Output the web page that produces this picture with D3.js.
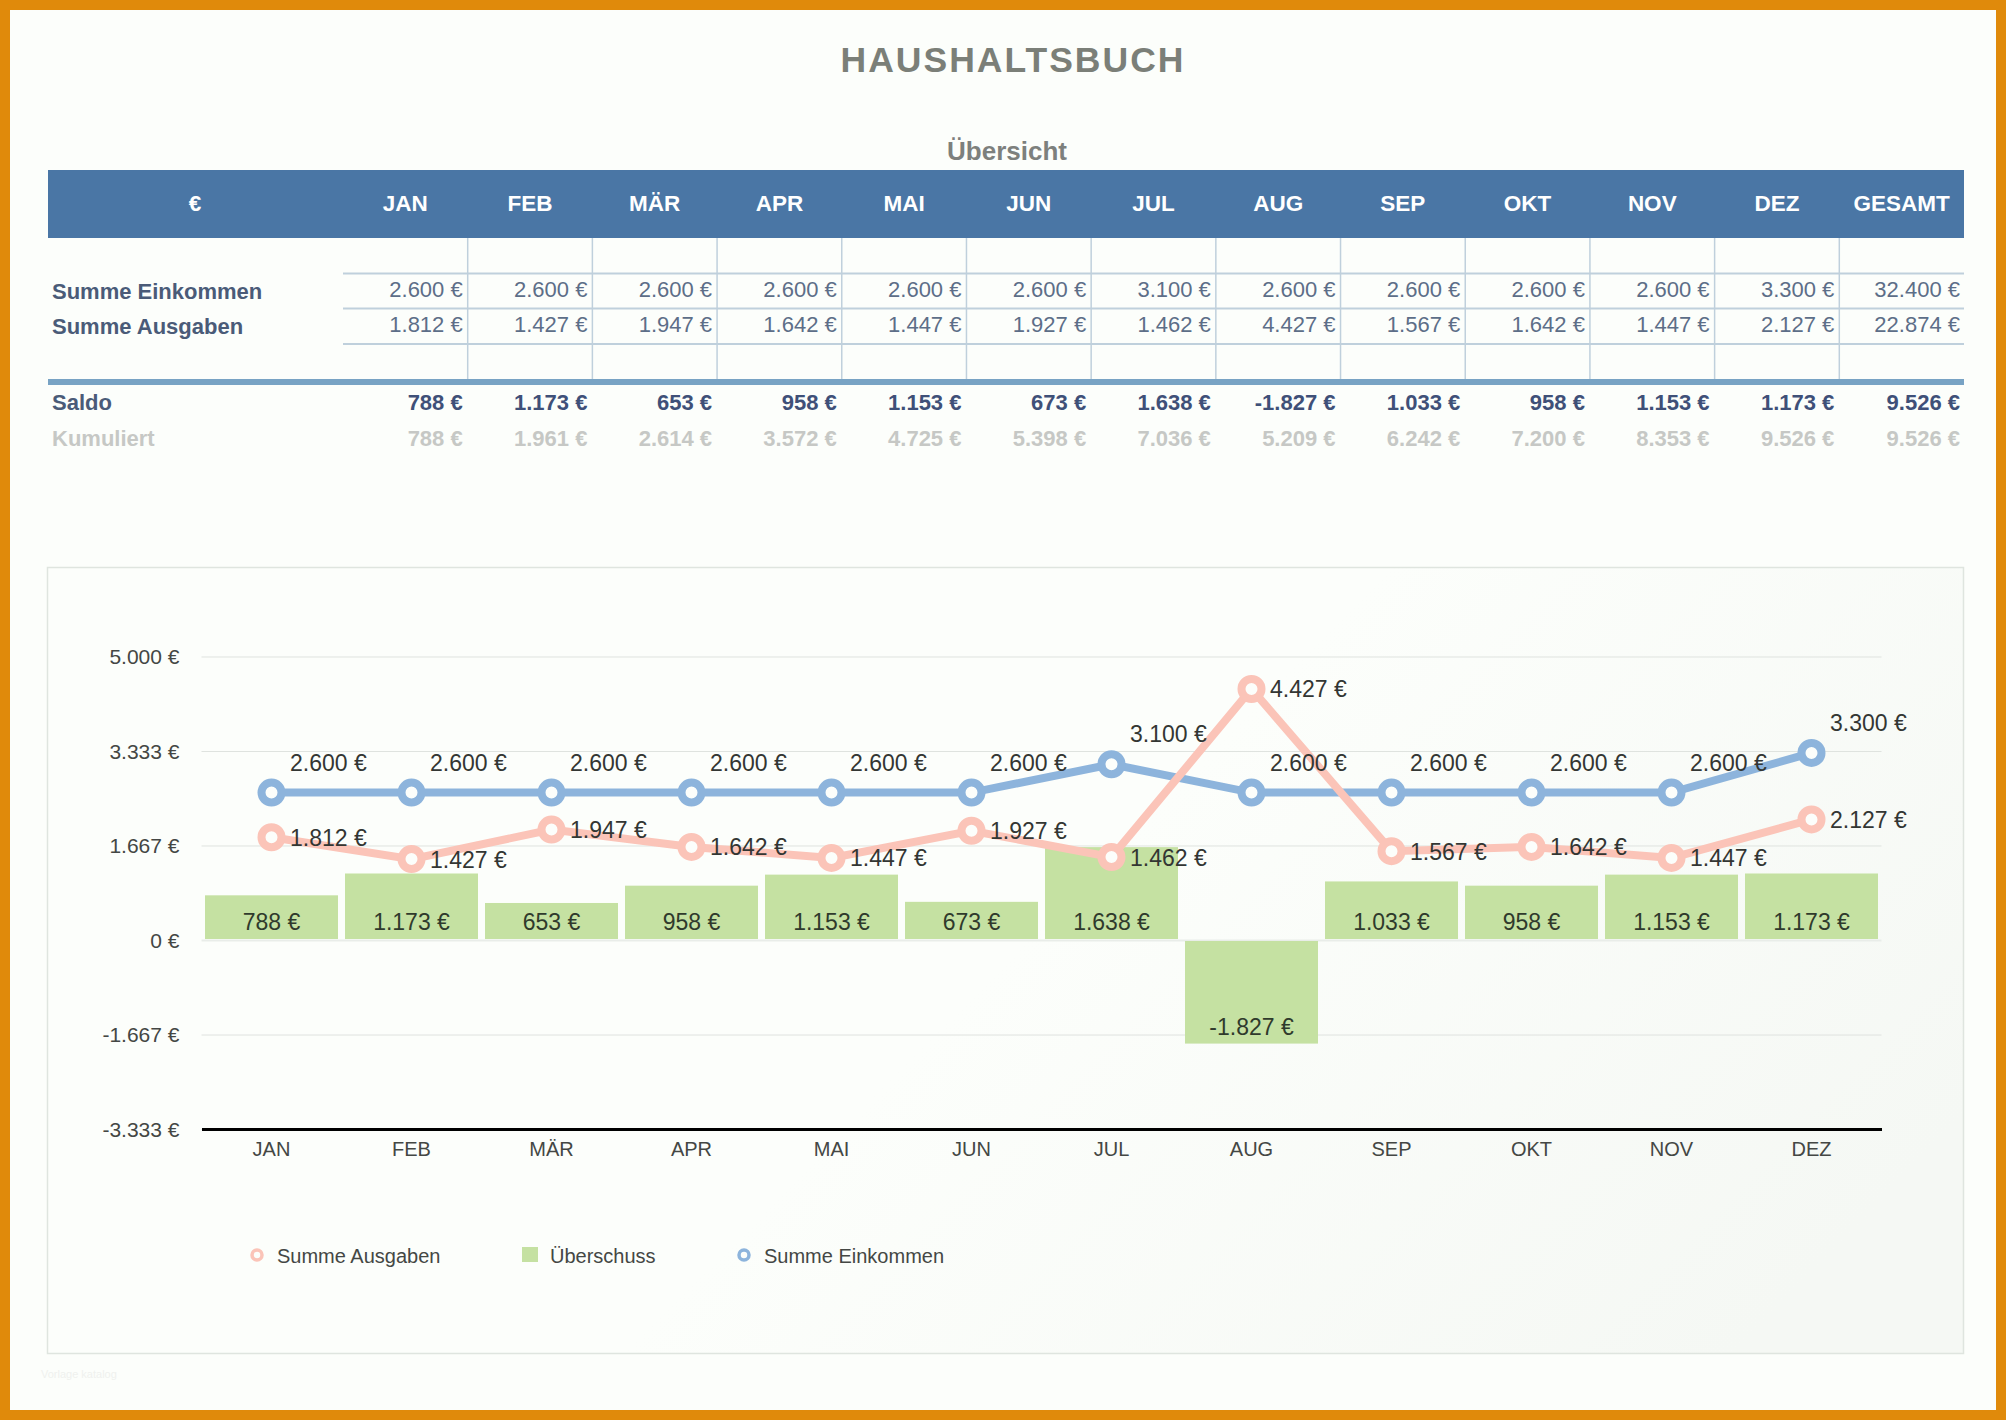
<!DOCTYPE html>
<html>
<head>
<meta charset="utf-8">
<title>Haushaltsbuch</title>
<script src="https://d3js.org/d3.v7.min.js"></script>
<style>
	html, body { margin: 0; padding: 0; background: #fcfefb; }
	svg { display: block; }
	text { font-family: "Liberation Sans", Arial, sans-serif; }
</style>
</head>
<body>
<script>
var months = ['JAN', 'FEB', 'MÄR', 'APR', 'MAI', 'JUN', 'JUL', 'AUG', 'SEP', 'OKT', 'NOV', 'DEZ']
var einkommen = [2600, 2600, 2600, 2600, 2600, 2600, 3100, 2600, 2600, 2600, 2600, 3300]
var ausgaben = [1812, 1427, 1947, 1642, 1447, 1927, 1462, 4427, 1567, 1642, 1447, 2127]
var saldo = [788, 1173, 653, 958, 1153, 673, 1638, -1827, 1033, 958, 1153, 1173]
var kumuliert = [788, 1961, 2614, 3572, 4725, 5398, 7036, 5209, 6242, 7200, 8353, 9526]
var gesamt = [32400, 22874, 9526, 9526]
var yTicks = [5000, 3333, 1667, 0, -1667, -3333]
var legendLabels = ['Summe Ausgaben', 'Überschuss', 'Summe Einkommen']

var width = 2006,
	height = 1420

var blue = '#8db4dc',
	pink = '#fbc4b8',
	green = '#c5e1a2',
	paper = '#fcfefb'

var locale = d3.formatLocale({decimal: ',', thousands: '.', grouping: [3], currency: ['', ''], minus: '-'})
var euro = d => locale.format(',')(d) + ' €'

var svg = d3.select('body').append('svg')
	.attr('width', width)
	.attr('height', height)

// orange frame
svg.append('rect')
	.attr('width', width)
	.attr('height', height)
	.attr('fill', '#e08a0b')

svg.append('rect')
	.attr('x', 10)
	.attr('y', 10)
	.attr('width', 1986)
	.attr('height', 1400)
	.attr('fill', paper)

var grad = svg.append('defs').append('linearGradient')
	.attr('id', 'panelFill')
	.attr('x1', 0.5).attr('y1', 0.5)
	.attr('x2', 1).attr('y2', 0.7)
grad.append('stop').attr('offset', 0).attr('stop-color', paper)
grad.append('stop').attr('offset', 1).attr('stop-color', '#f5f8f4')

// TITLE
svg.append('text')
	.attr('x', 1013)
	.attr('y', 72)
	.attr('text-anchor', 'middle')
	.attr('font-size', 35.5)
	.attr('font-weight', 'bold')
	.attr('letter-spacing', 2)
	.attr('fill', '#7b7f78')
	.text('HAUSHALTSBUCH')

svg.append('text')
	.attr('x', 1007)
	.attr('y', 160)
	.attr('text-anchor', 'middle')
	.attr('font-size', 26)
	.attr('font-weight', 'bold')
	.attr('fill', '#7d807d')
	.text('Übersicht')

// TABLE
var tableCols = months.concat(['GESAMT'])

var col = d3.scaleBand()
	.domain(tableCols)
	.range([343, 1964])

var table = svg.append('g')

table.append('rect')
	.attr('x', 48)
	.attr('y', 170)
	.attr('width', 1916)
	.attr('height', 68)
	.attr('fill', '#4a76a5')

table.append('text')
	.attr('x', 195)
	.attr('y', 211)
	.attr('text-anchor', 'middle')
	.attr('font-size', 22.5)
	.attr('font-weight', 'bold')
	.attr('fill', '#ffffff')
	.text('€')

table.selectAll('.head')
	.data(tableCols)
	.enter()
	.append('text')
		.attr('class', 'head')
		.attr('x', d => col(d) + col.bandwidth() / 2)
		.attr('y', 211)
		.attr('text-anchor', 'middle')
		.attr('font-size', 22.5)
		.attr('font-weight', 'bold')
		.attr('fill', '#ffffff')
		.text(d => d)

table.selectAll('.vline')
	.data(months)
	.enter()
	.append('line')
		.attr('class', 'vline')
		.attr('x1', d => col(d) + col.bandwidth())
		.attr('x2', d => col(d) + col.bandwidth())
		.attr('y1', 238)
		.attr('y2', 380)
		.attr('stroke', '#bfd0dc')
		.attr('stroke-width', 1.5)

table.selectAll('.hline')
	.data([273.5, 308.5, 344])
	.enter()
	.append('line')
		.attr('class', 'hline')
		.attr('x1', 343)
		.attr('x2', 1964)
		.attr('y1', d => d)
		.attr('y2', d => d)
		.attr('stroke', '#bfd0dc')
		.attr('stroke-width', 2)

table.append('rect')
	.attr('x', 48)
	.attr('y', 379)
	.attr('width', 1916)
	.attr('height', 6)
	.attr('fill', '#78a3c4')

var rows = [
	{label: 'Summe Einkommen', values: einkommen, total: gesamt[0], labelY: 299, y: 297, weight: 'normal', labelColor: '#4a5b78', color: '#5d6e88'},
	{label: 'Summe Ausgaben', values: ausgaben, total: gesamt[1], labelY: 334, y: 332, weight: 'normal', labelColor: '#4a5b78', color: '#5d6e88'},
	{label: 'Saldo', values: saldo, total: gesamt[2], labelY: 410, y: 410, weight: 'bold', labelColor: '#4a5b78', color: '#3f5078'},
	{label: 'Kumuliert', values: kumuliert, total: gesamt[3], labelY: 446, y: 446, weight: 'bold', labelColor: '#c6c8c5', color: '#c6c8c5'}
]

rows.forEach(function (row) {
	table.append('text')
		.attr('x', 52)
		.attr('y', row.labelY)
		.attr('font-size', 22)
		.attr('font-weight', 'bold')
		.attr('fill', row.labelColor)
		.text(row.label)

	table.selectAll(null)
		.data(row.values.concat([row.total]))
		.enter()
		.append('text')
			.attr('x', (d, i) => col(tableCols[i]) + col.bandwidth() - (i == 12 ? 4 : 5))
			.attr('y', row.y)
			.attr('text-anchor', 'end')
			.attr('font-size', 22)
			.attr('font-weight', row.weight)
			.attr('fill', row.color)
			.text(d => euro(d))
})

// CHART PANEL
svg.append('rect')
	.attr('x', 47.5)
	.attr('y', 567.5)
	.attr('width', 1916)
	.attr('height', 786)
	.attr('fill', 'url(#panelFill)')
	.attr('stroke', '#dfe5df')
	.attr('stroke-width', 1.5)

var x = d3.scaleBand()
	.domain(months)
	.range([201.5, 1881.5])
	.paddingInner(0.05)
	.paddingOuter(0.025)

var y = d3.scaleLinear()
	.domain([-3333.33, 5000])
	.range([1129, 656.5])

var chart = svg.append('g')

// the grid comes from the left axis ticks
var yAxis = chart.append('g')
	.attr('transform', 'translate(201.5,0)')
	.call(d3.axisLeft(y)
		.tickValues(yTicks)
		.tickFormat(euro)
		.tickSize(-1680)
		.tickPadding(22))

yAxis.select('.domain').remove()
yAxis.selectAll('.tick line')
	.attr('stroke', d => d == 0 ? '#e9ede9' : '#dfe3df')
	.attr('stroke-width', d => d == 0 ? 2 : 1)
yAxis.selectAll('.tick text')
	.attr('font-size', 21)
	.attr('fill', '#444744')
	.attr('dy', '0.34em')
	.style('font-family', '"Liberation Sans", Arial, sans-serif')

chart.selectAll('.bar')
	.data(saldo)
	.enter()
	.append('rect')
		.attr('class', 'bar')
		.attr('x', (d, i) => x(months[i]))
		.attr('width', x.bandwidth())
		.attr('y', d => d > 0 ? y(d) : y(0) + 1)
		.attr('height', d => d > 0 ? y(0) - y(d) - 1 : y(d) - y(0) - 1)
		.attr('fill', green)

var xAxis = chart.append('g')
	.attr('transform', 'translate(0,1129)')
	.call(d3.axisBottom(x)
		.tickSize(0)
		.tickPadding(13))

xAxis.select('.domain')
	.attr('stroke', '#000000')
	.attr('stroke-width', 3)
xAxis.selectAll('.tick text')
	.attr('font-size', 20)
	.attr('fill', '#444744')
	.style('font-family', '"Liberation Sans", Arial, sans-serif')

var cx = i => x(months[i]) + x.bandwidth() / 2

function drawSeries(values, color) {
	var line = d3.line()
		.x((d, i) => cx(i))
		.y(d => y(d))

	chart.append('path')
		.attr('d', line(values))
		.attr('fill', 'none')
		.attr('stroke', color)
		.attr('stroke-width', 8)

	chart.selectAll(null)
		.data(values)
		.enter()
		.append('circle')
			.attr('cx', (d, i) => cx(i))
			.attr('cy', d => y(d))
			.attr('r', 10)
			.attr('fill', paper)
			.attr('stroke', color)
			.attr('stroke-width', 8)
}

drawSeries(einkommen, blue)
drawSeries(ausgaben, pink)

function drawLabels(values, dy) {
	chart.selectAll(null)
		.data(values)
		.enter()
		.append('text')
			.attr('x', (d, i) => cx(i) + 18.5)
			.attr('y', d => y(d) + dy)
			.attr('font-size', 23)
			.attr('fill', '#333633')
			.text(d => euro(d))
}

drawLabels(einkommen, -22)
drawLabels(ausgaben, 8.5)

chart.selectAll('.barLabel')
	.data(saldo)
	.enter()
	.append('text')
		.attr('class', 'barLabel')
		.attr('x', (d, i) => cx(i))
		.attr('y', d => d > 0 ? y(0) - 10 : y(d) - 8.5)
		.attr('text-anchor', 'middle')
		.attr('font-size', 23)
		.attr('fill', '#2f3a2c')
		.text(d => euro(d))

// LEGEND
var legend = svg.append('g')

legend.selectAll('.legendText')
	.data(legendLabels)
	.enter()
	.append('text')
		.attr('class', 'legendText')
		.attr('x', (d, i) => [277, 550, 764][i])
		.attr('y', 1263)
		.attr('font-size', 20)
		.attr('fill', '#444744')
		.text(d => d)

legend.selectAll('.legendDot')
	.data([pink, blue])
	.enter()
	.append('circle')
		.attr('class', 'legendDot')
		.attr('cx', (d, i) => [257, 744][i])
		.attr('cy', 1255)
		.attr('r', 5)
		.attr('fill', paper)
		.attr('stroke', d => d)
		.attr('stroke-width', 3.5)

legend.append('rect')
	.attr('x', 522)
	.attr('y', 1247)
	.attr('width', 16)
	.attr('height', 15)
	.attr('fill', green)

// faint watermark, bottom left
svg.append('text')
	.attr('x', 41)
	.attr('y', 1378)
	.attr('font-size', 11)
	.attr('fill', '#eff1ee')
	.text('Vorlage katalog')
</script>
</body>
</html>
